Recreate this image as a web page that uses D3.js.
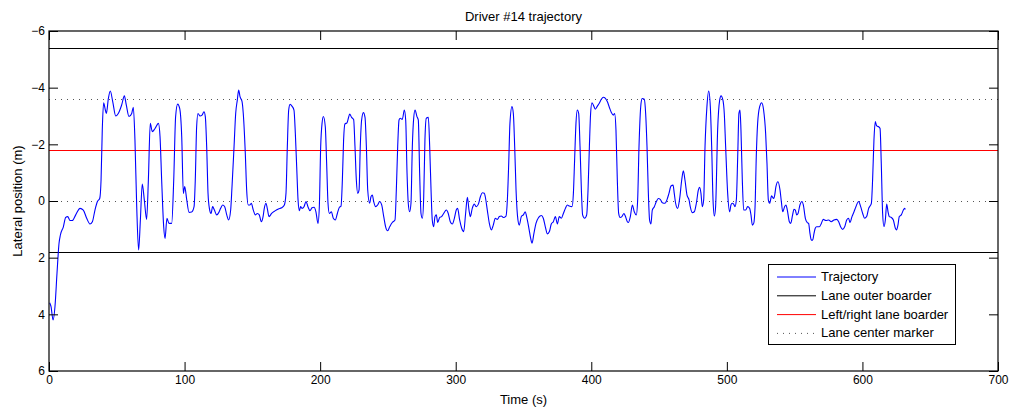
<!DOCTYPE html>
<html>
<head>
<meta charset="utf-8">
<script src="https://cdn.jsdelivr.net/npm/d3@7"></script>
<style>
  body { margin: 0; background: #fff; }
  text { font-family: "Liberation Sans", Arial, sans-serif; font-size: 13px; fill: #000; }
</style>
</head>
<body>
<div id="chart"></div>
<script>
// Data: [time (s), lateral position (m)]
var trajectory = [
  [0.5,3.59],[1.5,3.73],[3.0,4.20],[4.4,3.73],[5.9,2.55],[7.4,1.49],[8.4,1.20],[10.6,0.91],[12.3,0.58],[13.8,0.55],
  [15.5,0.69],[17.2,0.69],[19.7,0.49],[22.9,0.26],[25.3,0.32],[27.8,0.61],[30.2,0.81],[32.0,0.73],[33.9,0.32],[35.7,0.02],
  [37.4,-0.09],[38.4,-0.74],[39.3,-2.51],[40.3,-3.47],[41.3,-3.27],[42.3,-3.09],[43.8,-3.62],[45.2,-3.88],[47.0,-3.51],[49.2,-3.00],
  [51.1,-3.09],[53.6,-3.39],[55.6,-3.71],[57.0,-3.39],[59.0,-2.98],[61.0,-3.09],[62.2,-3.31],[63.4,-2.15],[64.7,0.20],[66.1,1.73],
  [67.4,0.67],[68.8,-0.60],[70.3,-0.04],[72.0,0.65],[73.3,-0.74],[74.7,-2.74],[76.2,-2.45],[78.2,-2.56],[80.7,-2.74],[81.9,-2.27],
  [83.1,-0.74],[84.6,0.91],[85.6,1.32],[87.0,0.61],[88.5,0.79],[90.5,0.79],[92.0,-0.74],[93.4,-2.98],[94.9,-3.42],[96.4,-3.27],
  [97.9,-2.27],[99.1,-0.27],[100.1,-0.51],[101.6,-0.04],[103.3,0.40],[105.2,0.39],[107.0,0.20],
  [107.9,-0.74],[108.9,-2.62],[109.9,-3.09],[111.4,-3.00],[112.9,-3.03],[114.3,-3.15],[115.3,-2.98],[116.3,-1.92],[117.3,-0.27],[118.3,0.26],
  [119.5,0.44],[120.7,0.20],[122.0,0.32],[123.7,0.49],[125.2,0.41],[126.6,0.26],[128.1,0.14],[129.6,0.20],[131.1,0.49],[132.5,0.67],
  [134.0,0.32],[135.0,-0.51],[136.5,-1.92],[137.7,-3.09],[138.9,-3.56],[139.9,-3.92],[140.9,-3.68],[142.4,-3.51],[143.3,-3.09],[144.8,-1.68],
  [145.8,-0.39],[147.0,0.14],[148.3,0.14],[149.2,0.08],[150.7,0.32],[152.2,0.49],[153.7,0.44],[155.1,0.49],[156.6,0.73],[157.9,0.55],
  [158.8,0.26],[160.1,0.08],[161.0,0.26],[162.3,0.55],[164.2,0.44],[166.7,0.35],[169.2,0.28],[171.6,0.24],[173.6,0.14],[174.8,-0.27],
  [175.8,-1.92],[176.8,-3.21],[177.8,-3.41],[179.2,-3.35],[180.7,-3.21],[181.7,-2.39],[182.7,-1.21],[183.7,-0.04],[184.7,0.34],[185.6,0.20],
  [186.6,0.26],[188.1,0.20],[189.6,0.02],[191.0,0.20],[192.5,0.34],[194.0,0.24],[195.5,0.22],[196.9,0.38],[198.4,0.79],[199.4,0.20],
  [200.4,-1.92],[201.4,-2.74],[202.4,-2.98],[203.8,-2.62],[204.8,-1.33],[205.8,0.08],[206.8,0.44],[208.3,0.38],[209.7,0.61],[211.2,0.67],
  [212.7,0.44],[214.2,0.22],
  [215.4,0.18],[216.4,-0.74],[217.3,-2.15],[218.3,-2.72],[219.8,-2.76],[220.8,-2.92],[221.8,-3.07],[223.2,-2.95],[224.7,-2.88],[225.7,-1.92],
  [226.7,-0.74],[227.7,-0.27],[228.7,-0.39],[229.6,-1.92],[230.6,-2.86],[231.9,-3.12],[233.1,-2.95],[234.1,-1.92],[235.1,-0.39],[236.5,0.08],
  [237.5,-0.15],[238.5,-0.21],[239.5,0.02],[241.0,0.20],[242.4,0.14],[243.9,0.02],[245.4,0.14],[246.9,0.55],[248.3,0.91],[249.8,1.05],
  [251.3,0.91],[253.2,0.76],[255.2,0.67],[256.2,-0.39],[257.2,-1.92],[258.2,-2.86],[259.1,-2.92],[260.6,-2.88],[262.1,-3.21],[263.1,-2.86],
  [264.1,-0.98],[265.0,0.08],[266.0,0.38],[267.0,0.08],[268.0,-1.92],[269.0,-2.92],[270.0,-3.21],[271.4,-2.98],[272.4,-2.86],[273.4,-0.98],
  [274.4,0.44],[275.4,0.61],[276.4,-0.15],[277.3,-2.15],[278.3,-2.92],[279.8,-2.95],[280.8,-1.92],[281.8,-0.39],[282.7,0.67],[283.7,0.91],
  [284.7,0.55],[285.7,0.49],[286.7,0.76],[288.2,0.58],[289.6,0.55],[291.1,0.44],[293.1,0.32],[294.5,0.44],[296.0,0.73],[297.5,0.81],
  [299.0,0.61],[300.4,0.32],[301.4,0.26],[302.9,0.67],[304.4,0.96],[305.9,1.08],[307.3,0.44],[308.6,-0.13],[309.8,0.32],[310.8,0.55],
  [312.2,0.26],[313.7,0.11],[315.2,0.20],[316.7,0.11],[318.2,-0.15],[319.6,-0.29],[321.1,-0.27],
  [321.8,-0.15],[323.3,0.32],[324.8,0.79],[326.3,1.02],[327.7,0.85],[329.2,0.61],[330.7,0.65],[332.2,0.55],[333.6,0.53],[335.1,0.58],
  [337.1,0.53],[338.1,-0.04],[339.1,-1.33],[340.0,-2.74],[341.5,-3.33],[342.5,-3.09],[343.5,-1.92],[344.5,-0.39],[345.9,0.67],[346.9,0.85],
  [348.4,0.55],[349.9,0.49],[351.3,0.38],[352.3,0.55],[353.8,0.91],[355.3,1.32],[356.3,1.49],[357.7,1.14],[359.2,0.79],[361.2,0.58],
  [363.2,0.51],[364.6,0.61],[366.1,0.91],[367.6,1.16],[369.1,1.08],[370.5,0.81],[372.0,0.73],[373.5,0.55],[375.0,0.81],[376.4,0.55],
  [377.9,0.61],[379.4,0.44],[380.9,0.26],[382.3,0.14],[383.8,0.18],[385.8,0.20],[386.8,-0.27],[387.7,-1.45],[388.7,-2.74],[389.7,-3.21],
  [390.7,-3.09],[391.7,-1.92],[392.7,-0.39],[393.6,0.49],[395.1,0.61],[396.6,0.49],[397.6,-0.39],[398.6,-1.92],[399.5,-3.09],[400.5,-3.47],
  [401.5,-3.39],[403.0,-3.24],[404.5,-3.35],[405.9,-3.45],[407.4,-3.59],[408.9,-3.66],[410.4,-3.62],[411.8,-3.51],[413.3,-3.31],[414.8,-3.12],
  [416.3,-3.03],[417.2,-3.09],[418.2,-2.51],[419.2,-0.74],[420.2,0.44],[421.2,0.58],[422.6,0.55],[424.1,0.44],[425.1,0.53],[426.6,0.73],
  [427.3,0.76],[428.8,0.55],[430.3,0.14],[431.7,0.38],[433.2,0.49],[434.2,-0.04],[435.2,-1.92],[436.7,-3.45],[437.6,-3.62],[439.1,-3.59],
  [440.1,-3.09],[441.1,-1.92],[442.1,-0.27],[443.0,0.67],[444.0,0.81],[445.0,0.32],[446.5,0.20],[448.0,0.02],[449.4,-0.09],[450.9,-0.06],
  [452.4,0.06],[454.4,0.08],[455.8,-0.04],[457.3,-0.27],[458.8,-0.53],[460.3,-0.56],[461.2,-0.27],[462.2,0.08],[463.7,0.26],[465.2,-0.09],
  [466.7,-0.74],[467.9,-1.07],[469.1,-0.74],[470.6,-0.21],[472.1,-0.04],[473.0,0.20],[474.5,0.41],[476.0,0.38],[477.5,0.08],[479.0,-0.39],
  [479.9,-0.48],[480.9,-0.27],[481.9,0.20],[482.9,-0.04],[483.9,-1.92],[485.3,-3.33],[486.6,-3.88],[487.8,-3.33],[488.8,-1.92],[489.8,-0.04],
  [490.8,0.53],[491.7,0.20],[493.2,-2.51],[494.7,-3.56],[495.7,-3.71],[497.1,-3.56],[498.1,-3.09],[499.1,-1.92],[500.6,-0.27],[502.1,0.38],
  [503.0,0.14],[504.0,0.08],[505.0,0.11],[506.0,0.20],[507.0,-0.04],[508.0,-1.56],[508.9,-3.09],[509.7,-3.21],[510.4,-2.51],[511.4,-0.74],
  [512.4,0.32],[513.9,0.32],[515.3,0.20],[516.8,0.26],[517.8,0.49],[518.8,0.85],[519.8,0.79],[520.8,0.20],[521.7,-1.56],[522.7,-2.74],
  [524.2,-3.33],[525.7,-3.47],[527.1,-3.21],[528.6,-2.39],[529.6,-1.33],[530.6,-0.04],[531.6,0.08],[533.0,-0.18],[534.5,-0.09],
  [535.3,-0.21],[536.2,-0.51],[537.7,-0.68],[539.2,-0.39],[540.2,0.02],[541.2,0.38],[542.6,0.20],[543.6,0.14],[544.6,0.32],[546.1,0.73],
  [547.1,0.79],[548.5,0.49],[549.5,0.29],[550.5,0.32],[551.5,0.49],[552.5,0.44],[553.9,0.14],[555.4,0.02],[556.4,0.14],[557.9,0.61],
  [559.3,0.76],[560.3,0.79],[561.3,1.14],[562.3,1.38],[563.3,1.38],[564.3,1.14],[565.2,0.96],[566.2,0.91],[568.2,0.91],[569.7,0.79],
  [571.1,0.65],[573.1,0.69],[575.1,0.67],[577.0,0.73],[579.0,0.67],[581.0,0.65],[582.5,0.73],[583.9,0.91],[585.4,1.00],[586.9,0.91],
  [588.4,0.67],[589.8,0.61],[590.8,0.76],[592.3,0.55],[593.8,0.38],[595.2,0.20],[597.2,0.02],[598.7,0.20],[600.2,0.44],[601.6,0.61],
  [603.1,0.55],[604.6,0.26],[605.6,0.18],[606.6,0.08],[607.5,-0.74],[608.5,-2.15],[609.5,-2.80],[610.5,-2.65],[612.0,-2.62],[613.0,-2.56],
  [613.9,-1.33],[614.9,0.44],[615.9,0.91],[616.9,0.67],[617.9,0.11],[618.9,0.38],[619.8,0.55],[621.3,0.58],[622.8,0.67],[624.3,0.96],
  [625.2,1.02],[626.2,0.85],[627.2,0.55],[628.7,0.49],[630.2,0.32],[631.1,0.26],[631.6,0.30]
];

var xTicks = [0, 100, 200, 300, 400, 500, 600, 700];
var yTicks = [-6, -4, -2, 0, 2, 4, 6];
var laneOuter = [-5.4, 1.8];
var laneBorder = [-1.8];
var laneCenter = [-3.6, 0];
var legendLabels = ["Trajectory", "Lane outer boarder", "Left/right lane boarder", "Lane center marker"];

var width = 1013, height = 408;
var margin = { top: 31, right: 15, bottom: 37, left: 49 };
var innerW = width - margin.left - margin.right;
var innerH = height - margin.top - margin.bottom;

var svg = d3.select("#chart").append("svg")
  .attr("width", width)
  .attr("height", height);

var x = d3.scaleLinear().domain([0, 700]).range([0, innerW]);
// reversed y: -6 at top
var y = d3.scaleLinear().domain([-6, 6]).range([0, innerH]);

var g = svg.append("g").attr("transform", "translate(" + margin.left + "," + margin.top + ")");

// lane lines
g.selectAll(".outer").data(laneOuter).enter().append("line")
  .attr("x1", 0).attr("x2", innerW)
  .attr("y1", function(d) { return Math.round(y(d)) + 0.5; })
  .attr("y2", function(d) { return Math.round(y(d)) + 0.5; })
  .attr("stroke", "#000").attr("stroke-width", 1);

g.selectAll(".center").data(laneCenter).enter().append("line")
  .attr("x1", 0).attr("x2", innerW)
  .attr("y1", function(d) { return Math.round(y(d)) + 0.5; })
  .attr("y2", function(d) { return Math.round(y(d)) + 0.5; })
  .attr("stroke", "#555").attr("stroke-width", 1)
  .attr("stroke-dasharray", "1,5");

g.selectAll(".border").data(laneBorder).enter().append("line")
  .attr("x1", 0).attr("x2", innerW)
  .attr("y1", function(d) { return Math.round(y(d)) + 0.5; })
  .attr("y2", function(d) { return Math.round(y(d)) + 0.5; })
  .attr("stroke", "#ff0000").attr("stroke-width", 1.2);

// trajectory
var line = d3.line()
  .x(function(d) { return x(d[0]); })
  .y(function(d) { return y(d[1]); })
  .curve(d3.curveMonotoneX);

g.append("path")
  .datum(trajectory)
  .attr("fill", "none")
  .attr("stroke", "#0000ff")
  .attr("stroke-width", 1.1)
  .attr("d", line);

// axes: ticks pointing inward on all four sides
var tickLen = 9;
var xAxisB = d3.axisBottom(x).tickValues(xTicks).tickSizeInner(-tickLen).tickSizeOuter(0).tickPadding(4);
var xAxisT = d3.axisTop(x).tickValues(xTicks).tickSizeInner(-tickLen).tickSizeOuter(0).tickFormat("");
var yAxisL = d3.axisLeft(y).tickValues(yTicks).tickSizeInner(-tickLen).tickSizeOuter(0).tickPadding(4);
var yAxisR = d3.axisRight(y).tickValues(yTicks).tickSizeInner(-tickLen).tickSizeOuter(0).tickFormat("");

function styleAxis(sel) {
  sel.select(".domain").remove();
  sel.selectAll("line").attr("stroke", "#000");
  sel.selectAll("text").style("font-family", "'Liberation Sans', Arial, sans-serif").style("font-size", "12px");
}

g.append("g").attr("transform", "translate(0," + innerH + ")").call(xAxisB).call(styleAxis);
g.append("g").call(xAxisT).call(styleAxis);
g.append("g").call(yAxisL).call(styleAxis);
g.append("g").attr("transform", "translate(" + innerW + ",0)").call(yAxisR).call(styleAxis);

// box
g.append("rect")
  .attr("x", 0).attr("y", 0)
  .attr("width", innerW).attr("height", innerH)
  .attr("fill", "none").attr("stroke", "#000").attr("stroke-width", 1.2);

// labels
svg.append("text")
  .attr("x", margin.left + innerW / 2).attr("y", 21)
  .attr("text-anchor", "middle")
  .text("Driver #14 trajectory");

svg.append("text")
  .attr("x", margin.left + innerW / 2).attr("y", 404)
  .attr("text-anchor", "middle")
  .text("Time (s)");

svg.append("text")
  .attr("transform", "translate(22," + (margin.top + innerH / 2) + ") rotate(-90)")
  .attr("text-anchor", "middle")
  .text("Lateral position (m)");

// legend
var legend = svg.append("g").attr("transform", "translate(768,264)");
legend.append("rect")
  .attr("x", 0.5).attr("y", 0.5).attr("width", 187).attr("height", 80)
  .attr("fill", "#fff").attr("stroke", "#000").attr("stroke-width", 1);

var legendStyles = [
  { stroke: "#0000ff", dash: null },
  { stroke: "#000", dash: null },
  { stroke: "#ff0000", dash: null },
  { stroke: "#555", dash: "1,5" }
];

var rows = legend.selectAll(".row").data(legendLabels).enter().append("g")
  .attr("transform", function(d, i) { return "translate(0," + (12.5 + i * 18.8) + ")"; });

rows.append("line")
  .attr("x1", 9).attr("x2", 48)
  .attr("y1", 0.5).attr("y2", 0.5)
  .attr("stroke", function(d, i) { return legendStyles[i].stroke; })
  .attr("stroke-dasharray", function(d, i) { return legendStyles[i].dash; })
  .attr("stroke-width", 1);

rows.append("text")
  .attr("x", 53).attr("y", 4.5)
  .text(function(d) { return d; });
</script>
</body>
</html>
